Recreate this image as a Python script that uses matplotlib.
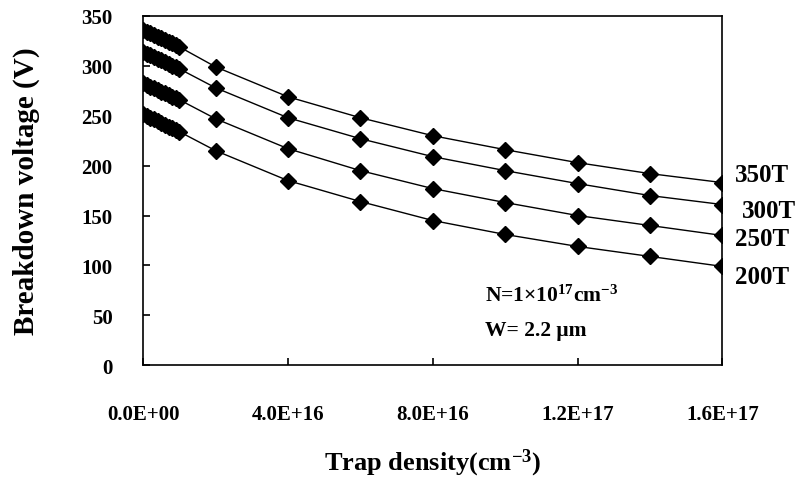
import matplotlib
matplotlib.use('Agg')
import numpy as np
import matplotlib.pyplot as plt

plt.rcParams['font.family'] = ['Liberation Serif', 'DejaVu Serif']
plt.rcParams['font.weight'] = 'bold'
plt.rcParams['mathtext.fontset'] = 'custom'
plt.rcParams['mathtext.rm'] = 'Liberation Serif:bold'
plt.rcParams['mathtext.default'] = 'rm'

# DATA

trap_density = [0.0, 1e15, 2e15, 3e15, 4e15, 5e15, 6e15, 7e15, 8e15, 9e15, 1e16,
                2e16, 4e16, 6e16, 8e16, 1e17, 1.2e17, 1.4e17, 1.6e17]

vb_350T = [336, 334, 333, 331, 329, 328, 326, 324, 323, 321, 319,
           299, 269, 248, 230, 216, 203, 192, 183]
vb_300T = [314, 312, 311, 309, 307, 306, 304, 302, 300, 299, 297,
           278, 248, 227, 209, 195, 182, 170, 161]
vb_250T = [283, 281, 279, 278, 276, 274, 273, 271, 269, 268, 266,
           247, 217, 195, 177, 163, 150, 140, 130]
vb_200T = [252, 250, 248, 247, 245, 243, 241, 239, 238, 236, 234,
           215, 185, 164, 145, 131, 119, 109, 99]

series_names = ['350T', '300T', '250T', '200T']
series_vals  = [vb_350T, vb_300T, vb_250T, vb_200T]

x_ticks       = [0.0, 4e16, 8e16, 1.2e17, 1.6e17]
x_tick_labels = ['0.0E+00', '4.0E+16', '8.0E+16', '1.2E+17', '1.6E+17']
y_ticks       = [0, 50, 100, 150, 200, 250, 300, 350]

# label offsets (points) for the curve names at the right end
label_offsets = [(9, 6), (14, -4), (9, -2), (9, -7)]

# FIGURE

fig = plt.figure(figsize=(8, 4.85), dpi=100)
ax = fig.add_axes([0.179, 0.245, 0.724, 0.72])

for name, vals, off in zip(series_names, series_vals, label_offsets):
    ax.plot(trap_density, vals, color='black', lw=1.0,
            marker='D', markersize=8, markerfacecolor='black', markeredgecolor='black')
    ax.annotate(name, xy=(trap_density[-1], vals[-1]), xytext=off,
                textcoords='offset points', ha='left', va='center',
                fontsize=18, fontweight='bold', annotation_clip=False)

ax.set_xlim(0, 1.6e17)
ax.set_ylim(0, 350)
ax.set_xticks(x_ticks)
ax.set_xticklabels(x_tick_labels)
ax.set_yticks(y_ticks)
ax.tick_params(direction='in', length=5, width=1.2, labelsize=15)
ax.tick_params(axis='y', pad=22)
ax.tick_params(axis='x', pad=28)
for lbl in ax.get_xticklabels() + ax.get_yticklabels():
    lbl.set_fontweight('bold')
for sp in ax.spines.values():
    sp.set_linewidth(1.2)

ax.set_ylabel('Breakdown voltage (V)', fontsize=21, fontweight='bold', labelpad=30)
ax.set_xlabel('Trap density(cm$^{-3}$)', fontsize=19, fontweight='bold', labelpad=16)

ax.text(0.59, 0.20, 'N=1×10$^{17}$cm$^{-3}$', transform=ax.transAxes,
        fontsize=15.5, fontweight='bold', ha='left', va='center')
ax.text(0.59, 0.10, 'W= 2.2 μm', transform=ax.transAxes,
        fontsize=15.5, fontweight='bold', ha='left', va='center')

fig.savefig('out.png', dpi=100)
